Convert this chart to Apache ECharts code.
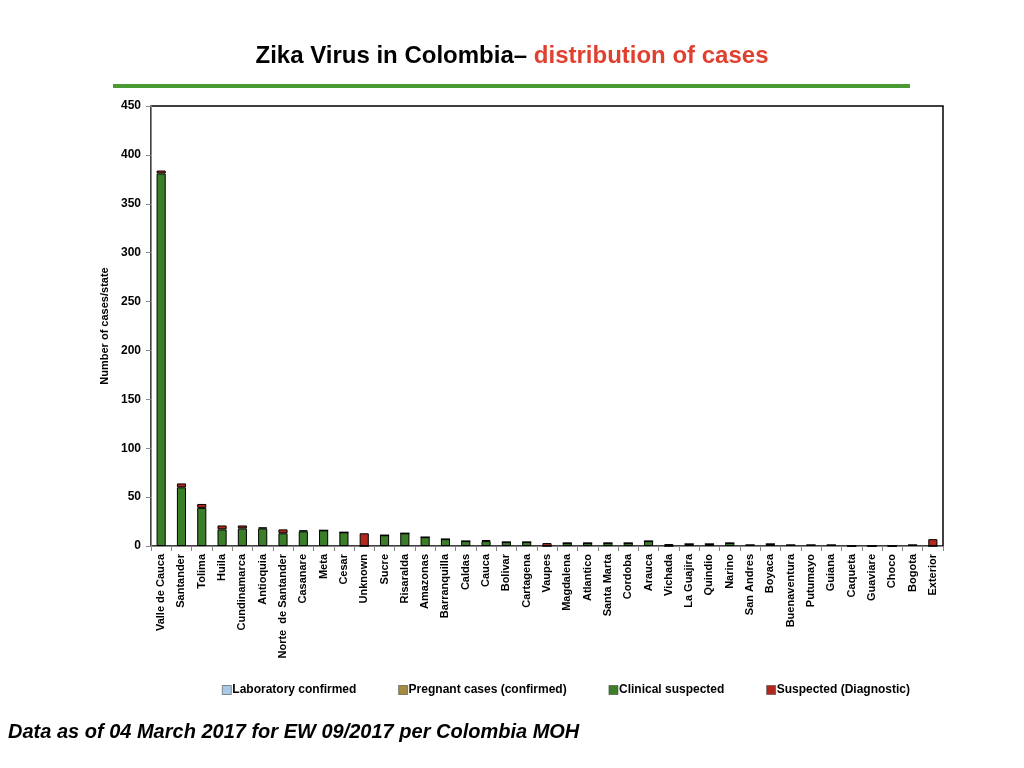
<!DOCTYPE html>
<html>
<head>
<meta charset="utf-8">
<script src="https://cdn.jsdelivr.net/npm/echarts@6/dist/echarts.min.js"></script>
<style>
html,body{margin:0;padding:0;background:#fff;}
#chart{width:1024px;height:768px;}
</style>
</head>
<body>
<div id="chart"></div>
<script>
// departamentos
var states = ['Valle de Cauca','Santander','Tolima','Huila','Cundinamarca','Antioquia','Norte  de Santander','Casanare','Meta','Cesar',
  'Unknown','Sucre','Risaralda','Amazonas','Barranquilla','Caldas','Cauca','Bolivar','Cartagena','Vaupes',
  'Magdalena','Atlantico','Santa Marta','Cordoba','Arauca','Vichada','La Guajira','Quindio','Narino','San Andres',
  'Boyaca','Buenaventura','Putumayo','Guiana','Caqueta','Guaviare','Choco','Bogota','Exterior'];

var labConfirmed = [0,0,0,0,0,0,0,0,0,0, 0,0,0,0,0,0,0,0,0,0, 0,0,0,0,0,0,0,0,0,0, 0,0,0,0,0,0,0,0,0];
var pregnantConfirmed = [0,0,0,0,0,0,0,0,0,0, 0,0,0,0,0,0,0,0,0,0, 0,0,0,0,0,0,0,0,0,0, 0,0,0,0,0,0,0,0,0];
var clinicalSuspected = [381,60,39,17,18,18,13,15,16,14, 0,11,13,9,7,5,5,4,4,0, 3,3,3,3,5,0,2,2,3,1, 2,1,1,1,0,0,0,1,0];
var suspectedDiag = [3,4,4,4,3,1,4,1,0,0, 13,0,0,0,0,0,1,0,0,3, 0,0,0,0,0,2,0,0,0,0, 0,0,0,0,0,0,0,0,7];

var yTicks = {min:0, max:450, step:50};

var chart = echarts.init(document.getElementById('chart'));

function mkSeries(name, data, color, border){
	return {
		name:name,
		type:'bar',
		stack:'total',
		barWidth:'45%',
		data:data,
		itemStyle:{color:color, borderColor:'#000', borderWidth:border}
	};
}

var option = {
	backgroundColor:'#fff',
	animation:false,
	title:{
		text:'{a|Zika Virus in Colombia– }{b|distribution of cases}',
		left:'center',
		top:39,
		textStyle:{
			rich:{
				a:{fontFamily:'Liberation Sans',fontWeight:'bold',fontSize:24,color:'#000'},
				b:{fontFamily:'Liberation Sans',fontWeight:'bold',fontSize:24,color:'#e0402f'}
			}
		}
	},
	graphic:[
		{type:'rect',shape:{x:113,y:84,width:797,height:4},style:{fill:'#4a9a34'}},
		{type:'text',left:8,top:722,style:{text:'Data as of 04 March 2017 for EW 09/2017 per Colombia MOH',
			font:'italic bold 20px "Liberation Sans"',fill:'#000'}}
	],
	legend:{
		data:['Laboratory confirmed','Pregnant cases (confirmed)','Clinical suspected','Suspected (Diagnostic)'],
		top:679,
		left:217,
		icon:'rect',
		itemWidth:9,
		itemHeight:9,
		itemGap:42,
		itemStyle:{borderColor:'#444',borderWidth:0.6},
		textStyle:{fontFamily:'Liberation Sans',fontWeight:'bold',fontSize:12,color:'#000',padding:[0,0,0,-4]}
	},
	grid:{left:151,right:81,top:106,bottom:222,show:true,borderColor:'#000',borderWidth:1.5},
	xAxis:{
		type:'category',
		data:states,
		axisLine:{lineStyle:{color:'#888',width:1}},
		axisTick:{show:true,lineStyle:{color:'#888'},length:5},
		axisLabel:{rotate:90,interval:0,fontFamily:'Liberation Sans',fontWeight:'bold',fontSize:11,color:'#000',margin:8}
	},
	yAxis:{
		type:'value',
		min:yTicks.min,
		max:yTicks.max,
		interval:yTicks.step,
		name:'Number of cases/state',
		nameLocation:'middle',
		nameGap:35,
		nameTextStyle:{fontFamily:'Liberation Sans',fontWeight:'bold',fontSize:11,color:'#000'},
		axisLine:{show:true,lineStyle:{color:'#888',width:1}},
		axisTick:{show:true,lineStyle:{color:'#888'},length:5},
		splitLine:{show:false},
		axisLabel:{fontFamily:'Liberation Sans',fontWeight:'bold',fontSize:12,color:'#000',margin:10}
	},
	series:[
		mkSeries('Laboratory confirmed', labConfirmed, '#a9c9e6', 0),
		mkSeries('Pregnant cases (confirmed)', pregnantConfirmed, '#a38b3f', 0),
		mkSeries('Clinical suspected', clinicalSuspected, '#3b7e28', 1),
		mkSeries('Suspected (Diagnostic)', suspectedDiag, '#b3271d', 1)
	]
};
chart.setOption(option);
</script>
</body>
</html>
